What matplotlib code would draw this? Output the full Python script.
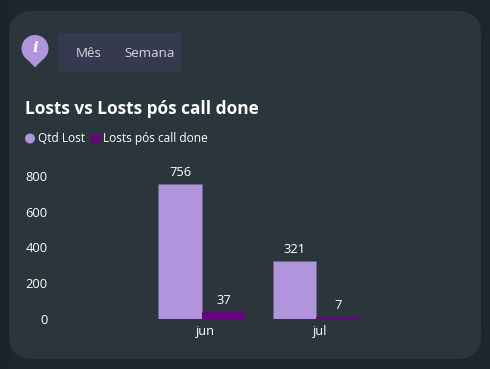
# -*- coding: utf-8 -*-
"""
Lost vs Lost pos call done - card escuro
"""

import numpy as np
import matplotlib
matplotlib.use("Agg")
import matplotlib.pyplot as plt
from matplotlib.patches import FancyBboxPatch, Rectangle, Circle, Polygon
from matplotlib.transforms import ScaledTranslation

# Dados
meses = ["jun", "jul"]
qtd_lost = [756, 321]
lost_pos_call = [37, 7]
yticks = [0, 200, 400, 600, 800]
abas = ["Mês", "Semana"]
titulo = "Losts vs Losts pós call done"
legenda = ["Qtd Lost", "Losts pós call done"]

# Cores
fundo = "#1c272d"
card = "#2b363c"
lilas = "#b094dc"
roxo = "#6a0080"

plt.rcParams["font.family"] = ["Open Sans", "DejaVu Sans"]

W, H = 490, 369
fig = plt.figure(figsize=(W / 100, H / 100), dpi=100, facecolor=fundo)

# Camada de fundo em pixels
bg = fig.add_axes([0, 0, 1, 1])
bg.set_xlim(0, W)
bg.set_ylim(H, 0)
bg.axis("off")

bg.add_patch(Rectangle((0, 0), 9, H, color="#18222a", lw=0))
bg.add_patch(FancyBboxPatch((9, 11), 472, 348,
                            boxstyle="round,pad=0,rounding_size=24",
                            fc=card, ec="none", lw=0))

# Abas
bg.add_patch(Rectangle((58, 33), 123, 39, color="#363a50", lw=0))
bg.text(88.5, 53.5, abas[0], color="#d3d8dc", fontsize=9.6, ha="center", va="center")
bg.text(150, 53.5, abas[1], color="#d3d8dc", fontsize=9.6, ha="center", va="center")

# Icone
bg.add_patch(Polygon([[25.5, 57.6], [35, 67.5], [44.5, 57.6]], closed=True, fc=lilas, lw=0))
bg.add_patch(Circle((35, 48.5), 13.5, fc=lilas, lw=0))
bg.text(35, 48.5, "i", color="white", fontsize=11, fontweight="bold", style="italic",
        family="DejaVu Serif", ha="center", va="center")

# Titulo e legenda
bg.text(25, 108.5, titulo, color="white", fontsize=12.4, fontweight="bold", va="center")
bg.add_patch(Circle((30, 138.5), 5, fc=lilas, lw=0))
bg.text(37.5, 138.5, legenda[0], color="white", fontsize=8.6, va="center")
bg.add_patch(Circle((96, 138.5), 5, fc=roxo, lw=0))
bg.text(103, 138.5, legenda[1], color="white", fontsize=8.6, va="center")

# Grafico: 0 em y=318.5 e 800 em y=176
x0, x1 = 60, 400
y0, y1 = 318.5, 160
ax = fig.add_axes([x0 / W, 1 - y0 / H, (x1 - x0) / W, (y0 - y1) / H])
ax.patch.set_alpha(0)

escala = 142.5 / 800
ax.set_ylim(0, (y0 - y1) / escala)
passo = 114.5
ax.set_xlim((x0 - 201.7) / passo, (x1 - 201.7) / passo)

x = np.arange(len(meses))
largura = 43.5 / passo
b1 = ax.bar(x - largura / 2, qtd_lost, largura, color=lilas, edgecolor="#6f6690", linewidth=0.6)
b2 = ax.bar(x + largura / 2, lost_pos_call, largura, color=roxo, linewidth=0)
ax.bar_label(b1, padding=3.5, color="white", fontsize=9.3)
ax.bar_label(b2, padding=3.5, color="white", fontsize=9.3)

ax.set_xticks(x, meses, color="white", fontsize=9.3)
ax.set_yticks(yticks, [str(v) for v in yticks], color="white", fontsize=9.3)
ax.tick_params(length=0)
ax.tick_params(axis="x", pad=5)
ax.tick_params(axis="y", pad=9)
# rotulos do eixo x um pouco a direita do centro do grupo
desloca = ScaledTranslation(2.5 / 72, 0, fig.dpi_scale_trans)
for rot in ax.get_xticklabels():
    rot.set_transform(rot.get_transform() + desloca)
for s in ax.spines.values():
    s.set_visible(False)

fig.savefig("out.png", dpi=100, facecolor=fundo)
